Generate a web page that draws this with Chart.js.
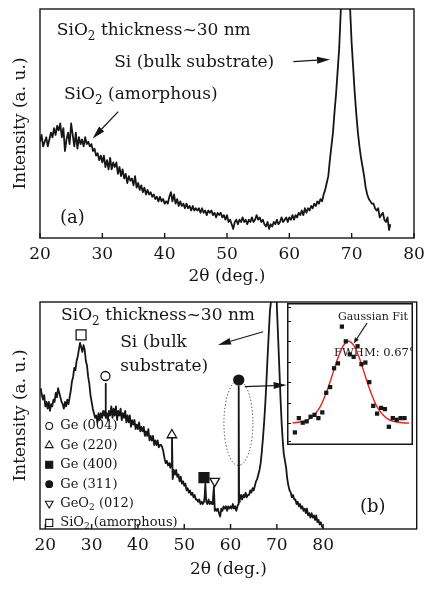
<!DOCTYPE html>
<html>
<head>
<meta charset="utf-8">
<script src="https://cdn.jsdelivr.net/npm/chart.js@4.4.1/dist/chart.umd.min.js"></script>
<style>
  body { margin: 0; background: #fff; }
  #wrap { position: relative; width: 425px; height: 589px; }
  canvas { position: absolute; }
  #chartA { left: 0; top: 0; }
  #chartB { left: 0; top: 290px; }
  #inset { left: 287px; top: 303px; }
</style>
</head>
<body>
<div id="wrap">
  <canvas id="chartA" width="425" height="290"></canvas>
  <canvas id="chartB" width="425" height="299"></canvas>
  <canvas id="inset" width="126" height="142"></canvas>
</div>
<script>
// (a) SiO2 on Si substrate, 2theta scan
var thetaA = [
  20,20.25,20.5,20.75,21,21.25,21.5,21.75,22,22.25,22.5,22.75,23,23.25,23.5,23.75,24,24.25,24.5,24.75,
  25,25.25,25.5,25.75,26,26.25,26.5,26.75,27,27.25,27.5,27.75,28,28.25,28.5,28.75,29,29.25,29.5,29.75,
  30,30.25,30.5,30.75,31,31.25,31.5,31.75,32,32.25,32.5,32.75,33,33.25,33.5,33.75,34,34.25,34.5,34.75,
  35,35.25,35.5,35.75,36,36.25,36.5,36.75,37,37.25,37.5,37.75,38,38.25,38.5,38.75,39,39.25,39.5,39.75,
  40,40.25,40.5,40.75,41,41.25,41.5,41.75,42,42.25,42.5,42.75,43,43.25,43.5,43.75,44,44.25,44.5,44.75,
  45,45.25,45.5,45.75,46,46.25,46.5,46.75,47,47.25,47.5,47.75,48,48.25,48.5,48.75,49,49.25,49.5,49.75,
  50,50.25,50.5,50.75,51,51.25,51.5,51.75,52,52.25,52.5,52.75,53,53.25,53.5,53.75,54,54.25,54.5,54.75,
  55,55.25,55.5,55.75,56,56.25,56.5,56.75,57,57.25,57.5,57.75,58,58.25,58.5,58.75,59,59.25,59.5,59.75,
  60,60.25,60.5,60.75,61,61.25,61.5,61.75,62,62.25,62.5,62.75,63,63.25,63.5,63.75,64,64.25,64.5,64.75,
  65,65.25,65.5,65.75,66,
  66.25,66.5,66.75,67,67.25,67.5,67.75,68,68.25,68.5,
  69,69.5,
  69.75,70,70.25,70.5,70.75,71,71.25,71.5,71.75,72,72.25,72.5,72.75,73,73.25,73.5,73.75,74,74.25,74.5,
  74.75,75,75.25,75.5,75.75,76,76.2];
var intensityA = [
  42,45,40,42,44,40,43,46,44,48,45,49,47,50,44,48,38,43,46,41,
  50,45,40,46,39,44,41,43,40,44,41,42,40,41,38,39,36,37,34,36,
  33,36,31,34,30,35,30,33,31,33,28,31,27,30,26,28,24,27,25,26,
  23,27,22,24,21,23,20,22,19,21,19,20,18,19,17,18,16,18,16,17,
  15,16,15,18,20,16,19,15,17,14,16,14,15,13,15,13,14,12,14,12,
  13,12,13,11,13,11,12,10,12,11,12,10,11,9,11,10,11,9,10,8,
  10,7,8,6,4,7,8,6,8,7,9,7,8,6,8,7,9,7,8,10,
  8,9,7,8,6,5,7,4,6,5,7,6,8,6,7,9,7,8,9,7,
  9,8,10,8,10,9,11,10,12,10,13,11,13,12,14,13,15,14,16,15,
  17,16,19,21,24,
  27,34,40,46,55,63,73,83,99,115,
  140,120,
  100,85,74,63,54,46,40,35,31,27,22,19,17,16,15,15,13,12,13,9,
  10,11,8,7,9,3.5,6];

// (b) Ge nanocrystals in SiO2 on Si
var thetaB = [
  19,19.25,19.5,19.75,20,20.25,20.5,20.75,21,21.25,21.5,21.75,22,22.25,22.5,22.75,23,23.25,23.5,23.75,
  24,24.25,24.5,24.75,25,25.25,25.5,25.75,26,26.25,26.5,26.75,27,27.25,27.5,27.75,28,28.25,28.5,28.75,
  29,29.25,29.5,29.75,30,30.25,30.5,30.75,31,31.25,31.5,31.75,32,32.25,32.5,32.75,
  32.9,33,33.1,
  33.25,33.5,33.75,34,34.25,34.5,34.75,35,35.25,35.5,35.75,36,36.25,36.5,36.75,37,37.25,37.5,37.75,
  38,38.25,38.5,38.75,39,39.25,39.5,39.75,40,40.25,40.5,40.75,41,41.25,41.5,41.75,42,42.25,42.5,42.75,
  43,43.25,43.5,43.75,44,44.25,44.5,44.75,45,45.25,45.5,45.75,46,46.25,46.5,46.75,47,
  47.2,47.35,47.5,
  47.75,48,48.25,48.5,48.75,49,49.25,49.5,49.75,50,50.25,50.5,50.75,51,51.25,51.5,51.75,52,52.25,52.5,
  52.75,53,53.25,53.5,53.75,54,54.25,
  54.4,54.55,
  54.75,55,55.25,55.5,55.75,56,
  56.2,56.4,56.6,
  56.75,57,57.25,57.5,57.75,58,58.25,58.5,58.75,59,59.25,59.5,59.75,60,60.25,60.5,60.75,61,61.25,61.5,
  61.68,61.72,61.8,61.85,
  62,62.25,62.5,62.75,63,63.25,63.5,63.75,64,64.25,64.5,64.75,65,65.25,65.5,65.75,66,66.25,66.5,66.75,
  67,67.25,67.5,67.75,68,68.25,68.5,
  69,69.4,69.8,70,70.3,70.55,70.8,71.05,71.3,71.5,
  71.75,72,72.25,72.5,72.75,73,73.25,73.5,73.75,74,74.25,74.5,74.75,75,75.25,75.5,75.75,76,76.25,76.5,
  76.75,77,77.25,77.5,77.75,78,78.25,78.5,78.75,79,79.25,79.5,79.75,80];
var intensityB = [
  62,59,57,59,54,56,53,56,52,55,54,57,56,60,58,62,60,58,56,55,
  53,56,54,57,55,58,61,65,67,71,70,74,76,79,82,80,78,81,79,74,
  72,67,64,59,56,53,51,49,50,47,51,48,51,49,52,50,
  52,64,49,
  51,48,52,50,54,49,53,50,54,48,52,50,53,48,51,49,52,47,50,
  47,50,45,48,46,48,44,46,44,47,43,45,43,45,41,43,41,44,39,41,
  39,41,37,39,37,39,36,37,37,36,34,31,29,30,28,29,27,
  29,41,22,
  26,24,26,23,24,21,23,20,21,19,20,17,18,16,17,15,16,14,15,13,
  13,12,13,11,12,11,12,
  14,20,
  12,11,13,11,12,11,
  13,18.5,8,
  9,8,9,7,5.5,9,8,10,9,10,8,10,9,10,9,11,9,10,8,10,
  11,62.7,62,12,
  13,15,13,15,14,16,14,15,15,17,16,18,17,19,21,22,24,26,29,34,
  40,47,55,65,76,86,96,
  105,160,130,98,83,70,57,46,38,33,
  30,27,22,19,17,16,14,15,13,13,11,12,10,11,9,10,8,9,7,9,
  6,7,5,7,5,6,4,6,3,4,2,3,1,0.5];

var tickDeg = [20, 30, 40, 50, 60, 70, 80];

// peak assignments in (b): legend order
var peakNames = ['Ge (004)', 'Ge (220)', 'Ge (400)', 'Ge (311)', 'GeO_2 (012)', 'SiO_2 (amorphous)'];
var peakTheta = [32.98, 47.33, 54.26, 61.77, 56.58, 27.72];
var peakMark = [67.4, 41.4, 22.6, 65.6, 21.1, 85.5];

// inset: Ge (311) peak with gaussian fit
var fitTheta = [60.84,60.91,60.98,61.05,61.12,61.19,61.26,61.33,61.40,61.47,61.54,61.61,61.68,61.75,61.82,
  61.89,61.96,62.03,62.10,62.17,62.24,62.31,62.38,62.45,62.52,62.59,62.66,62.73,62.80];
var fitCounts = [-0.115,0.06,0.004,0.02,0.077,0.1,0.06,0.13,0.37,0.44,0.67,0.73,1.18,1.0,0.84,
  0.81,0.94,0.72,0.74,0.50,0.21,0.115,0.185,0.17,-0.046,0.06,0.04,0.06,0.06];
var gaussTheta = [60.8,60.9,61.0,61.1,61.2,61.3,61.4,61.5,61.6,61.7,61.8,61.9,62.0,62.1,62.2,62.3,62.4,62.5,62.6,62.7,62.8,62.9];
var gaussCurve = [0,0.01,0.02,0.05,0.11,0.21,0.37,0.57,0.78,0.94,1.0,0.94,0.78,0.57,0.37,0.21,0.11,0.05,0.02,0.01,0,0];

var SERIF = '"DejaVu Serif", "Liberation Serif", serif';
var INK = '#161616';
var markStyle = ['circle', 'triangle', 'rect', 'circle', 'triangle', 'rect'];
var markFill = [false, false, true, true, false, false];
var markRot = [0, 0, 0, 0, 180, 0];

function pts(xs, ys) {
  return xs.map(function (x, i) { return { x: x, y: ys[i] }; });
}

// text with "_2" style subscripts
function richText(ctx, str, x, y, size) {
  var parts = str.split(/_(\d)/);
  for (var i = 0; i < parts.length; i++) {
    var sub = i % 2 === 1;
    ctx.font = (sub ? Math.round(size * 0.68) : size) + 'px ' + SERIF;
    ctx.fillText(parts[i], x, y + (sub ? size * 0.28 : 0));
    x += ctx.measureText(parts[i]).width;
  }
}

function arrow(ctx, x1, y1, x2, y2, head, half) {
  var a = Math.atan2(y2 - y1, x2 - x1);
  var bx = x2 - head * Math.cos(a), by = y2 - head * Math.sin(a);
  ctx.beginPath(); ctx.moveTo(x1, y1); ctx.lineTo(bx, by); ctx.stroke();
  ctx.beginPath();
  ctx.moveTo(x2, y2);
  ctx.lineTo(bx + half * Math.sin(a), by - half * Math.cos(a));
  ctx.lineTo(bx - half * Math.sin(a), by + half * Math.cos(a));
  ctx.closePath(); ctx.fill();
}

// box round the plot and inward ticks on the bottom axis
var frame = {
  id: 'frame',
  afterDraw: function (chart) {
    var c = chart.ctx, a = chart.chartArea, xs = chart.scales.x;
    c.save();
    c.strokeStyle = INK; c.lineWidth = 1.4;
    c.strokeRect(a.left, a.top, a.right - a.left, a.bottom - a.top);
    xs.ticks.forEach(function (t) {
      var px = xs.getPixelForValue(t.value);
      c.beginPath(); c.moveTo(px, a.bottom); c.lineTo(px, a.bottom - 5); c.stroke();
    });
    c.restore();
  }
};

// notes are placed in data units so they follow the axes
function notesPlugin(notes, arrows, extra) {
  return {
    id: 'notes',
    beforeDatasetsDraw: function (chart) {
      var c = chart.ctx, xs = chart.scales.x, ys = chart.scales.y;
      c.save();
      c.fillStyle = INK; c.textBaseline = 'alphabetic'; c.textAlign = 'left';
      notes.forEach(function (n) {
        richText(c, n.text, xs.getPixelForValue(n.x), ys.getPixelForValue(n.y), n.size);
      });
      if (extra) extra(chart, c, xs, ys);
      c.restore();
    },
    afterDraw: function (chart) {
      var c = chart.ctx, xs = chart.scales.x, ys = chart.scales.y;
      c.save();
      c.strokeStyle = INK; c.fillStyle = INK; c.lineWidth = 1.2;
      arrows.forEach(function (r) {
        arrow(c, xs.getPixelForValue(r[0]), ys.getPixelForValue(r[1]),
          xs.getPixelForValue(r[2]), ys.getPixelForValue(r[3]), r[4], r[5]);
      });
      c.restore();
    }
  };
}

function axes(xmin, xmax, xHeight, titlePad) {
  return {
    x: {
      type: 'linear', min: xmin, max: xmax,
      afterBuildTicks: function (s) { s.ticks = tickDeg.map(function (v) { return { value: v }; }); },
      afterFit: function (s) { s.height = xHeight; s.paddingLeft = 0; s.paddingRight = 0; },
      grid: { display: false, drawTicks: false },
      border: { display: false },
      ticks: { color: INK, font: { family: SERIF, size: 17 }, padding: 6, maxRotation: 0, autoSkip: false },
      title: { display: true, text: '2θ (deg.)', color: INK, font: { family: SERIF, size: 17 }, padding: { top: 0, bottom: titlePad } }
    },
    y: {
      min: 0, max: 100,
      afterFit: function (s) { s.width = 40; s.paddingTop = 0; s.paddingBottom = 0; },
      grid: { display: false, drawTicks: false },
      border: { display: false },
      ticks: { display: false },
      title: { display: true, text: 'Intensity (a. u.)', color: INK, font: { family: SERIF, size: 17 }, padding: { top: 10, bottom: 0 } }
    }
  };
}

var common = {
  responsive: false,
  animation: false,
  plugins: { legend: { display: false }, tooltip: { enabled: false } },
  elements: { point: { radius: 0 }, line: { borderWidth: 1.8, borderColor: INK, tension: 0, borderJoinStyle: 'round' } }
};

new Chart('chartA', {
  type: 'line',
  data: { datasets: [{ data: pts(thetaA, intensityA), borderColor: INK }] },
  options: Object.assign({}, common, {
    layout: { padding: { left: 0, right: 11, top: 9, bottom: 0 } },
    scales: axes(20, 80, 52, 3)
  }),
  plugins: [frame, notesPlugin([
    { text: 'SiO_2 thickness~30 nm', x: 22.7, y: 88.6, size: 17 },
    { text: 'Si (bulk substrate)', x: 31.9, y: 74.8, size: 17 },
    { text: 'SiO_2 (amorphous)', x: 23.85, y: 60.7, size: 17 },
    { text: '(a)', x: 23.2, y: 6.6, size: 18 }
  ], [
    [60.64, 77.0, 66.53, 78.0, 13, 3.5],
    [32.56, 55.2, 28.45, 43.5, 13, 3.5]
  ])]
});

new Chart('chartB', {
  type: 'line',
  data: {
    datasets: [
      { data: pts(thetaB, intensityB), borderColor: INK, order: 2 },
      {
        data: pts(peakTheta, peakMark), showLine: false, order: 1,
        pointStyle: markStyle, rotation: markRot,
        pointRadius: [4.5, 5.5, 7, 5, 5.5, 7],
        pointBackgroundColor: markFill.map(function (f) { return f ? INK : '#fff'; }),
        pointBorderColor: INK, pointBorderWidth: 1.3
      }
    ]
  },
  options: Object.assign({}, common, {
    layout: { padding: { left: 0, right: 8, top: 12, bottom: 0 } },
    scales: axes(18.85, 100.2, 60, 9)
  }),
  plugins: [frame, notesPlugin([
    { text: 'SiO_2 thickness~30 nm', x: 23.4, y: 92.1, size: 17 },
    { text: 'Si (bulk', x: 36.17, y: 80.3, size: 17 },
    { text: 'substrate)', x: 36.17, y: 69.6, size: 17 },
    { text: '(b)', x: 87.96, y: 7.6, size: 18 }
  ], [
    [67.03, 86.9, 57.29, 81.1, 13, 3.5],
    [63.07, 62.7, 72.1, 63.4, 13, 3.5]
  ], function (chart, c, xs, ys) {
    // legend of peak symbols
    var sx = xs.getPixelForValue(20.84), tx = xs.getPixelForValue(23.23);
    var y0 = ys.getPixelForValue(45.4);
    c.textBaseline = 'middle';
    peakNames.forEach(function (name, i) {
      var y = y0 + i * 19.4;
      c.fillStyle = markFill[i] ? INK : '#fff';
      c.strokeStyle = INK; c.lineWidth = 1.1;
      Chart.helpers.drawPoint(c, {
        pointStyle: markStyle[i], rotation: markRot[i], borderWidth: 1.1,
        radius: markStyle[i] === 'rect' ? 5 : (markStyle[i] === 'triangle' ? 4.5 : 3.4)
      }, sx, y);
      c.fillStyle = INK;
      richText(c, name, tx, y, 13);
    });
    // dotted ellipse round the Ge (311) peak
    c.setLineDash([1.2, 2.2]); c.lineWidth = 1; c.strokeStyle = '#333';
    c.beginPath();
    c.ellipse(xs.getPixelForValue(61.7), ys.getPixelForValue(46.7), 14.5, 42.5, 0, 0, Math.PI * 2);
    c.stroke();
    c.setLineDash([]);
  })]
});

new Chart('inset', {
  type: 'line',
  data: {
    datasets: [
      { data: pts(gaussTheta, gaussCurve), borderColor: '#e8231f', borderWidth: 1.4, cubicInterpolationMode: 'monotone', order: 2 },
      { data: pts(fitTheta, fitCounts), showLine: false, pointStyle: 'rect', pointRadius: 3,
        pointBackgroundColor: INK, pointBorderColor: INK, pointBorderWidth: 0, order: 1 }
    ]
  },
  options: Object.assign({}, common, {
    layout: { padding: 0 },
    scales: {
      x: { type: 'linear', min: 60.77, max: 62.88, afterFit: function (s) { s.height = 0; },
        grid: { display: false, drawTicks: false }, border: { display: false }, ticks: { display: false } },
      y: { min: -0.22, max: 1.42, afterFit: function (s) { s.width = 0; },
        grid: { display: false, drawTicks: false }, border: { display: false }, ticks: { display: false, stepSize: 0.25 } }
    }
  }),
  plugins: [{
    id: 'insetFrame',
    beforeDraw: function (chart) {
      var c = chart.ctx;
      c.save(); c.fillStyle = '#fff'; c.fillRect(0, 0, chart.width, chart.height); c.restore();
    },
    afterDraw: function (chart) {
      var c = chart.ctx, ys = chart.scales.y;
      c.save();
      c.strokeStyle = INK; c.lineWidth = 1.5;
      c.strokeRect(0.75, 0.75, chart.width - 1.5, chart.height - 1.5);
      c.lineWidth = 1;
      ys.ticks.forEach(function (t) {
        var py = Math.round(ys.getPixelForValue(t.value)) + 0.5;
        c.beginPath(); c.moveTo(1, py); c.lineTo(4, py); c.stroke();
      });
      c.restore();
    }
  }, notesPlugin([
    { text: 'Gaussian Fit', x: 61.61, y: 1.258, size: 11 },
    { text: 'FWHM: 0.67°', x: 61.54, y: 0.82, size: 11.5 }
  ], [
    [62.13, 1.224, 61.89, 0.973, 6, 2.3]
  ])]
});
</script>
</body>
</html>
